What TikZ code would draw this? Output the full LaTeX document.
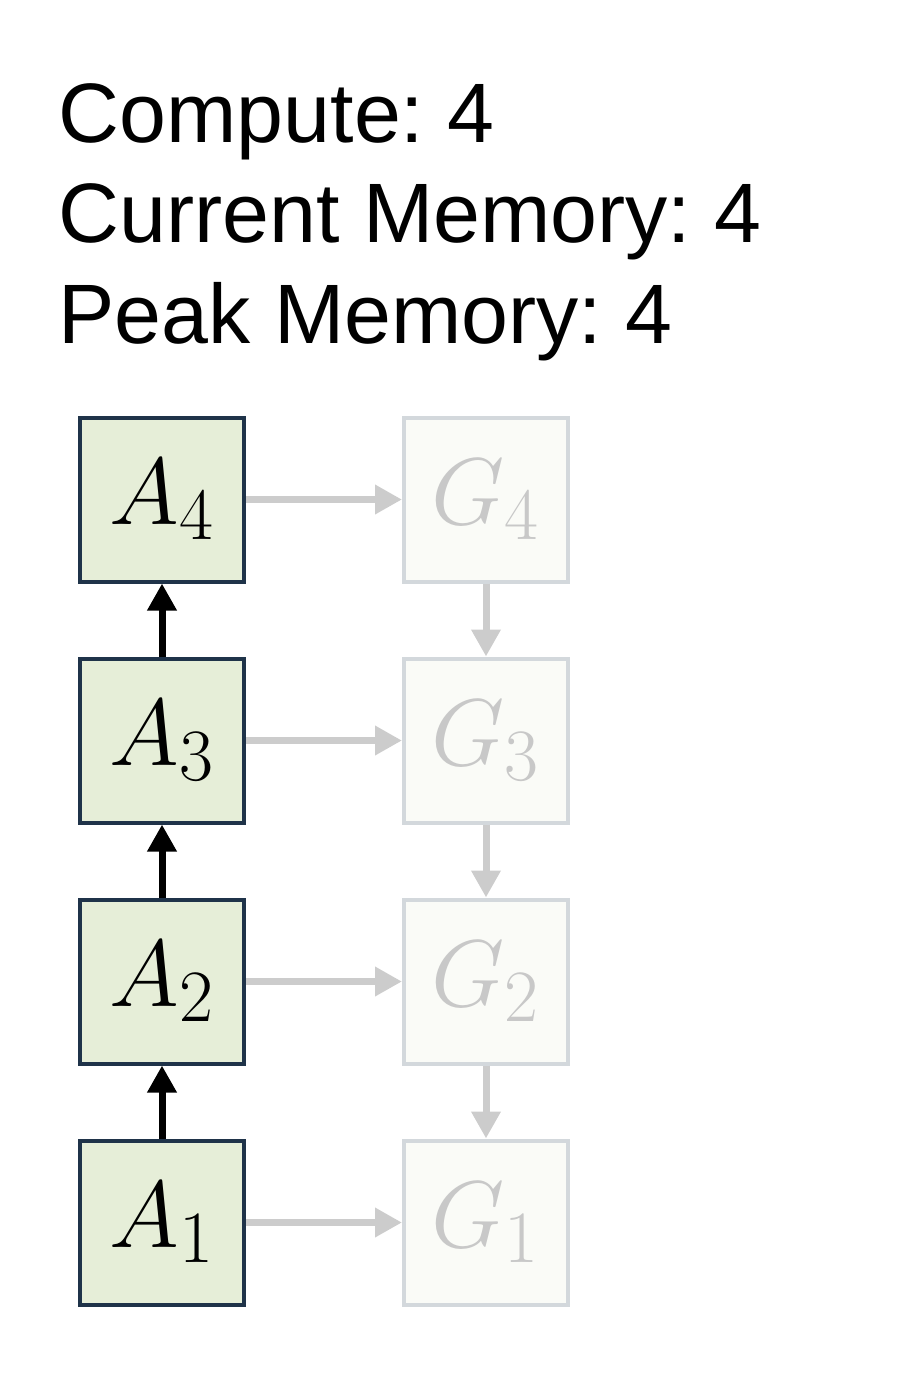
\RequirePackage{fix-cm}
\documentclass[tikz,border=0pt]{standalone}
\usepackage{fontspec}
\setmainfont{Liberation Sans}
\usepackage{xcolor}
\usetikzlibrary{arrows.meta, positioning}
\definecolor{actfill}{HTML}{E6EED8}
\definecolor{actdraw}{HTML}{1F3349}
\definecolor{gradfill}{HTML}{FAFBF7}
\definecolor{graddraw}{HTML}{D3D8DC}
\definecolor{gradtext}{HTML}{C8C8C8}
\definecolor{fadearrow}{HTML}{CCCCCC}
\DeclareMathSizes{27}{27}{21}{15}
\frenchspacing

\begin{document}
\begin{tikzpicture}[
  node distance=0.73cm and 1.56cm,
  stat/.style={anchor=base west, inner sep=0pt, font=\fontsize{24}{28.45}\selectfont},
  act/.style={
    draw=actdraw, fill=actfill, line width=0.04cm,
    minimum size=1.64cm, inner sep=0pt,
    font=\fontsize{27}{30}\selectfont
  },
  grad/.style={
    draw=graddraw, fill=gradfill, line width=0.04cm,
    minimum size=1.64cm, inner sep=0pt, text=gradtext,
    font=\fontsize{27}{30}\selectfont
  },
  fwd/.style={-{Triangle[length=0.27cm, width=0.28cm]}, line width=0.07cm, color=black},
  bwd/.style={-{Triangle[length=0.27cm, width=0.28cm]}, line width=0.07cm, color=fadearrow}
]
  \useasboundingbox (0,0) rectangle (9,-13.94);

  % Contatori in alto
  \node[stat] (compute) at (0.58,-1.42) {Compute: 4};
  \node[stat] (curmem) at (0.58,-2.42) {Current Memory: 4};
  \node[stat] (peakmem) at (0.58,-3.43) {Peak Memory: 4};

  % Attivazioni (colonna sinistra)
  \node[act] (a1) at (1.62,-12.225) {$A_1$};
  \node[act, above=of a1] (a2) {$A_2$};
  \node[act, above=of a2] (a3) {$A_3$};
  \node[act, above=of a3] (a4) {$A_4$};

  % Gradienti (colonna destra, sbiaditi)
  \node[grad, right=of a1] (g1) {$G_1$};
  \node[grad, right=of a2] (g2) {$G_2$};
  \node[grad, right=of a3] (g3) {$G_3$};
  \node[grad, right=of a4] (g4) {$G_4$};

  % Frecce in avanti
  \draw[fwd] (a1) -- (a2);
  \draw[fwd] (a2) -- (a3);
  \draw[fwd] (a3) -- (a4);

  % Frecce verso i gradienti
  \draw[bwd] (a1) -- (g1);
  \draw[bwd] (a2) -- (g2);
  \draw[bwd] (a3) -- (g3);
  \draw[bwd] (a4) -- (g4);

  % Frecce all'indietro
  \draw[bwd] (g4) -- (g3);
  \draw[bwd] (g3) -- (g2);
  \draw[bwd] (g2) -- (g1);

\end{tikzpicture}
\end{document}
